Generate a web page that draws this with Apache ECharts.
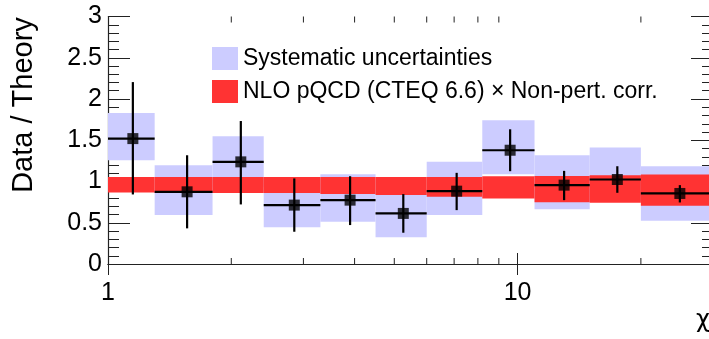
<!DOCTYPE html>
<html>
<head>
<meta charset="utf-8">
<script src="https://cdn.jsdelivr.net/npm/echarts@6/dist/echarts.min.js"></script>
<style>
  html, body { margin: 0; padding: 0; background: #fff; }
  #chart { width: 709px; height: 339px; }
</style>
</head>
<body>
<div id="chart"></div>
<script>
// Dijet angular ratio Data / Theory in bins of chi
const binEdges   = [1, 1.3, 1.8, 2.4, 3.3, 4.5, 6.0, 8.2, 11.0, 15.0, 20.0, 30.0];
const pointX     = [1.15, 1.56, 2.11, 2.85, 3.90, 5.26, 7.10, 9.59, 12.99, 17.52, 24.9];
const ratio      = [1.520, 0.875, 1.238, 0.714, 0.774, 0.613, 0.883, 1.379, 0.956, 1.024, 0.855];
const statLow    = [0.843, 0.432, 0.722, 0.391, 0.472, 0.379, 0.653, 1.125, 0.774, 0.863, 0.746];
const statHigh   = [2.205, 1.318, 1.733, 1.037, 1.064, 0.847, 1.105, 1.633, 1.129, 1.185, 0.956];
const systLow    = [1.258, 0.593, 0.930, 0.444, 0.512, 0.323, 0.593, 1.089, 0.665, 0.760, 0.524];
const systHigh   = [1.830, 1.198, 1.548, 0.980, 1.089, 0.900, 1.238, 1.742, 1.318, 1.411, 1.185];
const theoryLow  = [0.867, 0.862, 0.862, 0.860, 0.847, 0.835, 0.814, 0.794, 0.750, 0.742, 0.705];
const theoryHigh = [1.056, 1.056, 1.056, 1.056, 1.056, 1.056, 1.056, 1.064, 1.068, 1.077, 1.085];
const xMinorTicks = [2, 3, 4, 5, 6, 7, 8, 9, 20, 30];

const SYST_NAME = 'Systematic uncertainties';
const THEORY_NAME = 'NLO pQCD (CTEQ 6.6) \u00d7 Non-pert. corr.';
const FONT = '"Liberation Sans", Arial, Helvetica, sans-serif';
const SYST_COLOR = '#ccccff';
const THEORY_COLOR = '#ff3333';

const binLo = binEdges.slice(0, -1);
const binHi = binEdges.slice(1);

const systBoxes = binLo.map((lo, i) => [lo, binHi[i], systLow[i], systHigh[i]]);
const theoryBoxes = binLo.map((lo, i) => [lo, binHi[i], theoryLow[i], theoryHigh[i]]);
const errorBars = pointX.map((x, i) => [x, ratio[i], binLo[i], binHi[i], statLow[i], statHigh[i]]);
const markers = pointX.map((x, i) => [x, ratio[i]]);

function boxRenderer(color) {
  return function (params, api) {
    const a = api.coord([api.value(0), api.value(3)]);
    const b = api.coord([api.value(1), api.value(2)]);
    return {
      type: 'rect',
      shape: { x: a[0], y: a[1], width: b[0] - a[0], height: b[1] - a[1] },
      style: { fill: color }
    };
  };
}

function errorRenderer(params, api) {
  const y = api.value(1), x = api.value(0);
  const l = api.coord([api.value(2), y]);
  const r = api.coord([api.value(3), y]);
  const t = api.coord([x, api.value(5)]);
  const b = api.coord([x, api.value(4)]);
  const st = { stroke: '#000', lineWidth: 2.2 };
  return {
    type: 'group',
    children: [
      { type: 'line', shape: { x1: l[0], y1: l[1], x2: r[0], y2: r[1] }, style: st },
      { type: 'line', shape: { x1: t[0], y1: t[1], x2: b[0], y2: b[1] }, style: st }
    ]
  };
}

function minorTickRenderer(params, api) {
  const v = api.value(0);
  const bot = api.coord([v, 0]);
  const top = api.coord([v, 3]);
  const st = { stroke: '#222', lineWidth: 1 };
  return {
    type: 'group',
    children: [
      { type: 'line', shape: { x1: bot[0], y1: bot[1], x2: bot[0], y2: bot[1] - 6 }, style: st },
      { type: 'line', shape: { x1: top[0], y1: top[1], x2: top[0], y2: top[1] + 6 }, style: st }
    ]
  };
}

const axisLine = { show: true, lineStyle: { color: '#222', width: 1.2 } };

const chart = echarts.init(document.getElementById('chart'), null, { renderer: 'canvas' });
chart.setOption({
  animation: false,
  backgroundColor: '#fff',
  grid: { left: 108, right: -4, top: 16.5, bottom: 75, containLabel: false, outerBoundsMode: 'none' },
  legend: {
    orient: 'vertical',
    left: 212, top: 47, padding: 0,
    itemWidth: 26, itemHeight: 23, itemGap: 10,
    icon: 'rect',
    selectedMode: false,
    data: [SYST_NAME, THEORY_NAME],
    textStyle: { fontFamily: FONT, fontSize: 23, color: '#000' }
  },
  xAxis: [
    {
      type: 'log', logBase: 10, min: 1, max: 30, position: 'bottom',
      axisLine: axisLine,
      axisTick: { show: true, inside: true, length: 11, lineStyle: { color: '#222' } },
      axisLabel: { fontFamily: FONT, fontSize: 25, color: '#000', margin: 17, showMaxLabel: false },
      splitLine: { show: false }
    },
    {
      type: 'log', logBase: 10, min: 1, max: 30, position: 'top',
      axisLine: axisLine,
      axisTick: { show: true, inside: true, length: 11, lineStyle: { color: '#222' } },
      axisLabel: { show: false },
      splitLine: { show: false }
    }
  ],
  yAxis: [
    {
      type: 'value', min: 0, max: 3, interval: 0.5, position: 'left',
      axisLine: axisLine,
      axisTick: { show: true, inside: true, length: 22, lineStyle: { color: '#222' } },
      minorTick: { show: true, splitNumber: 5, length: 11, lineStyle: { color: '#222' } },
      axisLabel: { fontFamily: FONT, fontSize: 25, color: '#000', margin: 6, padding: [10, 0, 0, 0] },
      splitLine: { show: false }
    },
    {
      type: 'value', min: 0, max: 3, interval: 0.5, position: 'right',
      axisLine: axisLine,
      axisTick: { show: true, inside: true, length: 22, lineStyle: { color: '#222' } },
      minorTick: { show: true, splitNumber: 5, length: 11, lineStyle: { color: '#222' } },
      axisLabel: { show: false },
      splitLine: { show: false }
    }
  ],
  graphic: [
    {
      type: 'text', x: 24, y: 105, rotation: Math.PI / 2,
      style: { text: 'Data / Theory', x: 0, y: 0, align: 'center', verticalAlign: 'middle',
               fontFamily: FONT, fontSize: 29, fill: '#000' }
    },
    {
      type: 'text', x: 696, y: 309,
      style: { text: '\u03c7', x: 0, y: 0, align: 'left', verticalAlign: 'top',
               fontFamily: '"DejaVu Sans", ' + FONT, fontSize: 24, fill: '#000' }
    }
  ],
  series: [
    {
      name: SYST_NAME, type: 'custom', z: 1,
      itemStyle: { color: SYST_COLOR },
      encode: { x: [0, 1], y: [2, 3] },
      renderItem: boxRenderer(SYST_COLOR),
      data: systBoxes
    },
    {
      name: THEORY_NAME, type: 'custom', z: 2,
      itemStyle: { color: THEORY_COLOR },
      encode: { x: [0, 1], y: [2, 3] },
      renderItem: boxRenderer(THEORY_COLOR),
      data: theoryBoxes
    },
    {
      name: 'stat', type: 'custom', z: 3,
      encode: { x: [0, 2, 3], y: [1, 4, 5] },
      renderItem: errorRenderer,
      data: errorBars
    },
    {
      name: 'data', type: 'scatter', z: 4,
      symbol: 'rect', symbolSize: 11,
      itemStyle: { color: '#000' },
      data: markers
    },
    {
      name: 'ticks', type: 'custom', z: 5, silent: true,
      encode: { x: 0, y: 1 },
      renderItem: minorTickRenderer,
      data: xMinorTicks.map(v => [v, 0])
    }
  ]
});
</script>
</body>
</html>
